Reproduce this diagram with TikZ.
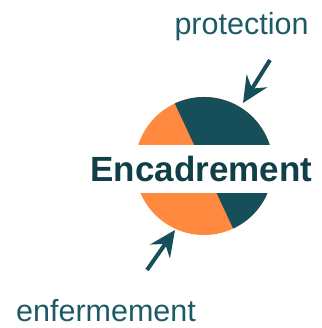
\documentclass[tikz,border=0pt]{standalone}
\usepackage{fontspec}
\setmainfont{Liberation Sans}
\usetikzlibrary{arrows.meta}
\definecolor{teal1}{HTML}{164E59}
\definecolor{tealtxt}{HTML}{103F48}
\definecolor{tealsm}{HTML}{1C5A66}
\definecolor{orange1}{HTML}{FF8A3F}
\tikzset{
  bigarrow/.style={draw=teal1, line width=4pt, -{Stealth[length=26pt, width=24pt, inset=9pt]}},
  lbl/.style={text=tealsm, font=\fontsize{30.5}{30}\selectfont, inner sep=0pt},
}
\begin{document}
\begin{tikzpicture}[x=1pt,y=-1pt]
\useasboundingbox (0,0) rectangle (321,328);
% pie
\coordinate (c) at (204,166);
\fill[orange1] (c) circle[radius=69];
\fill[teal1] (c) -- ++(-115:69) arc[start angle=-115, end angle=65, radius=69] -- cycle;
\fill[white] (120,145) rectangle (290,193);
\node[font=\bfseries\fontsize{35}{35}\selectfont, text=tealtxt, inner sep=0pt, anchor=base] (enc) at (201.5,182) {Encadrement};
\node[lbl, anchor=base] (prot) at (241.5,35) {protection};
\node[lbl, anchor=base] (enf) at (106,321) {enfermement};
\coordinate (p1) at (270,60);
\coordinate (p2) at (243,103);
\coordinate (e1) at (147,270);
\coordinate (e2) at (175,230);
\draw[bigarrow] (p1) -- (p2);
\draw[bigarrow] (e1) -- (e2);
\end{tikzpicture}
\end{document}
